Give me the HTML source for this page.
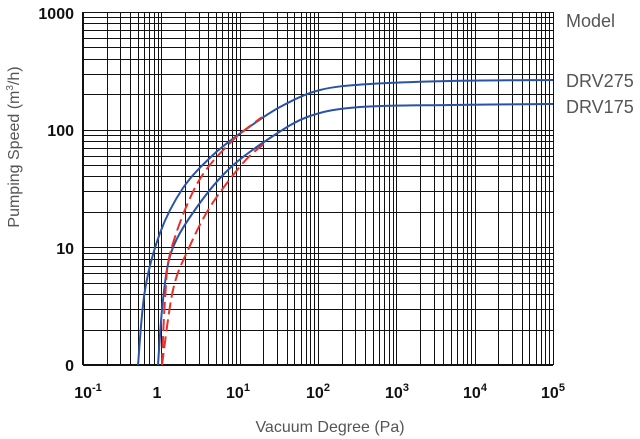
<!DOCTYPE html>
<html><head><meta charset="utf-8"><style>
html,body{margin:0;padding:0;background:#fff;}
svg{display:block;font-family:"Liberation Sans",sans-serif;}
</style></head><body>
<svg id="s" width="640" height="439" viewBox="0 0 640 439" xmlns="http://www.w3.org/2000/svg">
<g id="grid" stroke="#111" stroke-width="1" fill="none"></g>
<g id="curves" fill="none" stroke-width="2" stroke-linejoin="round"></g>
<g font-size="16" font-weight="bold" fill="#111" text-anchor="end">
<text x="74" y="19">1000</text>
<text x="74" y="136">100</text>
<text x="74" y="254">10</text>
<text x="74" y="371">0</text>
</g>
<g font-size="16" font-weight="bold" fill="#111" text-anchor="middle">
<text x="88" y="398">10<tspan font-size="11" dy="-7">-1</tspan></text>
<text x="157" y="398">1</text>
<text x="238" y="398">10<tspan font-size="11" dy="-7">1</tspan></text>
<text x="318" y="398">10<tspan font-size="11" dy="-7">2</tspan></text>
<text x="397" y="398">10<tspan font-size="11" dy="-7">3</tspan></text>
<text x="475" y="398">10<tspan font-size="11" dy="-7">4</tspan></text>
<text x="553" y="398">10<tspan font-size="11" dy="-7">5</tspan></text>
</g>
<text x="330" y="432" font-size="16" fill="#555" text-anchor="middle">Vacuum Degree (Pa)</text>
<text transform="translate(19,147) rotate(-90)" font-size="16" fill="#555" text-anchor="middle">Pumping Speed (m<tspan font-size="10" dy="-6">3</tspan><tspan dy="6">/h)</tspan></text>
<g font-size="18" fill="#555">
<text x="566" y="27">Model</text>
<text x="566" y="87">DRV275</text>
<text x="566" y="113">DRV175</text>
</g>
</svg>
<script>
var g=document.getElementById('grid'),x0=83,x1=553,y0=12,y1=365,dx=(x1-x0)/6,dy=(y1-y0)/3,h='';
for(var d=0;d<6;d++)for(var k=1;k<10;k++){var x=x0+dx*(d+Math.log10(k));x=Math.round(x)+0.5;h+='<line x1="'+x+'" y1="'+y0+'" x2="'+x+'" y2="'+y1+'"/>';}
h+='<line x1="'+(x1+0.5)+'" y1="'+y0+'" x2="'+(x1+0.5)+'" y2="'+y1+'"/>';
for(var d=0;d<3;d++)for(var k=1;k<10;k++){var y=y1-dy*(d+Math.log10(k));y=Math.round(y)+0.5;h+='<line x1="'+x0+'" y1="'+y+'" x2="'+x1+'" y2="'+y+'"/>';}
h+='<line x1="'+x0+'" y1="'+(y0+0.5)+'" x2="'+x1+'" y2="'+(y0+0.5)+'"/>';
h+='<line x1="'+x0+'" y1="'+y1+'" x2="'+x1+'" y2="'+y1+'" stroke-width="2"/>';
h+='<line x1="'+x0+'" y1="'+y0+'" x2="'+x0+'" y2="'+y1+'" stroke-width="2"/>';
g.innerHTML=h;
function cr(p){var s='M'+p[0][0]+','+p[0][1];for(var i=0;i<p.length-1;i++){var a=p[i-1]||p[i],b=p[i],c=p[i+1],e=p[i+2]||c;
s+=' C'+(b[0]+(c[0]-a[0])/6).toFixed(1)+','+(b[1]+(c[1]-a[1])/6).toFixed(1)+' '+(c[0]-(e[0]-b[0])/6).toFixed(1)+','+(c[1]-(e[1]-b[1])/6).toFixed(1)+' '+c[0]+','+c[1];}return s;}
var B='#2a52a6',R='#e8312a';
var C=[
[B,0,[[138,365],[145,290],[160,233],[183,188],[213,155],[245,130],[280,107],[320,90],[370,84],[450,81],[553,80]]],
[B,0,[[158,365],[163,300],[172,250],[197,207],[230,168],[270,138],[310,116],[360,107],[450,105],[553,104]]],
[R,1,[[162,365],[165,300],[171,250],[197,184],[230,143],[262,117]]],
[R,1,[[162,365],[173,290],[188,250],[210,207],[243,163],[265,143]]]
];
var o='';C.forEach(function(c){o+='<path stroke="'+c[0]+'"'+(c[1]?' stroke-dasharray="12,5"':'')+' d="'+cr(c[2])+'"/>';});
document.getElementById('curves').innerHTML=o;
</script>
</body></html>
